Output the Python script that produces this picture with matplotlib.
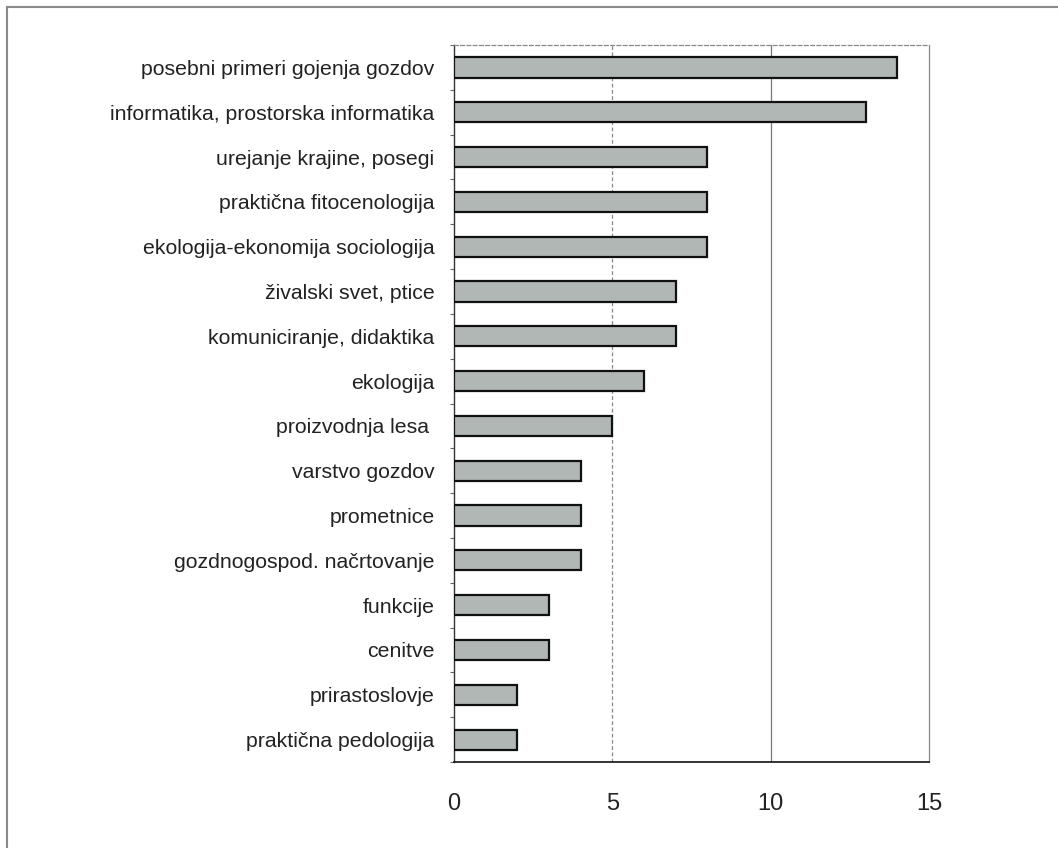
import matplotlib.pyplot as plt
from matplotlib.lines import Line2D
import numpy as np

plt.rcParams['font.family'] = ['Liberation Sans', 'DejaVu Sans']

categories = ['posebni primeri gojenja gozdov',
              'informatika, prostorska informatika',
              'urejanje krajine, posegi',
              'praktična fitocenologija',
              'ekologija-ekonomija sociologija',
              'živalski svet, ptice',
              'komuniciranje, didaktika',
              'ekologija',
              'proizvodnja lesa ',
              'varstvo gozdov',
              'prometnice',
              'gozdnogospod. načrtovanje',
              'funkcije',
              'cenitve',
              'prirastoslovje',
              'praktična pedologija']
values = [14, 13, 8, 8, 8, 7, 7, 6, 5, 4, 4, 4, 3, 3, 2, 2]
xticks = [0, 5, 10, 15]

fig = plt.figure(figsize=(10.58, 8.48), dpi=100)
ax = fig.add_axes([0.4291, 0.1014, 0.449, 0.8455])

y = np.arange(len(categories))
ax.barh(y, values, height=0.45, color='#b0b7b4', edgecolor='#111111',
        linewidth=1.6, zorder=3)

ax.set_ylim(len(categories) - 0.5, -0.5)
ax.set_xlim(0, 15)
ax.set_yticks(y)
ax.set_yticklabels(categories, fontsize=15.3, color='#222222')
ax.set_yticks(np.arange(len(categories) + 1) - 0.5, minor=True)
ax.tick_params(axis='y', which='major', length=0, pad=14)
ax.tick_params(axis='y', which='minor', length=3, color='#666666', width=0.8)
ax.set_xticks(xticks)
ax.set_xticklabels([str(v) for v in xticks], fontsize=17, color='#222222')
ax.tick_params(axis='x', length=0, pad=22)

ax.axvline(5, color='#888888', linewidth=0.9, linestyle=(0, (3, 2)), zorder=1)
ax.axvline(10, color='#777777', linewidth=0.9, zorder=1)

ax.spines['left'].set_color('#333333')
ax.spines['left'].set_linewidth(1.0)
ax.spines['bottom'].set_color('#111111')
ax.spines['bottom'].set_linewidth(1.2)
ax.spines['right'].set_color('#888888')
ax.spines['right'].set_linewidth(0.9)
ax.spines['top'].set_color('#888888')
ax.spines['top'].set_linewidth(0.9)
ax.spines['top'].set_linestyle((0, (3, 2)))

# outer frame (left and top edges visible)
fig.add_artist(Line2D([0.0066, 0.0066], [0.0, 0.9917], color='#8a8a8a', linewidth=1.5))
fig.add_artist(Line2D([0.0066, 1.0], [0.9917, 0.9917], color='#8a8a8a', linewidth=1.5))

plt.savefig('out.png', dpi=100)
